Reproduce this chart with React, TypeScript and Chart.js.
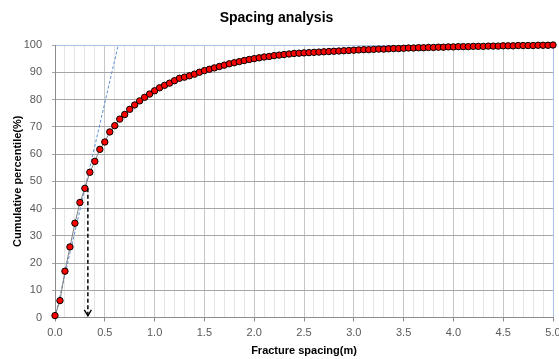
import React, { useEffect, useRef } from "react";
import { Chart, registerables } from "chart.js";

Chart.register(...registerables);

const spacing: number[] = [
  0.0, 0.05, 0.1, 0.15, 0.2, 0.25, 0.3, 0.35, 0.4, 0.45,
  0.5, 0.55, 0.6, 0.65, 0.7, 0.75, 0.8, 0.85, 0.9, 0.95,
  1.0, 1.05, 1.1, 1.15, 1.2, 1.25, 1.3, 1.35, 1.4, 1.45,
  1.5, 1.55, 1.6, 1.65, 1.7, 1.75, 1.8, 1.85, 1.9, 1.95,
  2.0, 2.05, 2.1, 2.15, 2.2, 2.25, 2.3, 2.35, 2.4, 2.45,
  2.5, 2.55, 2.6, 2.65, 2.7, 2.75, 2.8, 2.85, 2.9, 2.95,
  3.0, 3.05, 3.1, 3.15, 3.2, 3.25, 3.3, 3.35, 3.4, 3.45,
  3.5, 3.55, 3.6, 3.65, 3.7, 3.75, 3.8, 3.85, 3.9, 3.95,
  4.0, 4.05, 4.1, 4.15, 4.2, 4.25, 4.3, 4.35, 4.4, 4.45,
  4.5, 4.55, 4.6, 4.65, 4.7, 4.75, 4.8, 4.85, 4.9, 4.95,
  5.0,
];

const cumulative: number[] = [
  0.7, 6.2, 17.0, 25.9, 34.6, 42.2, 47.4, 53.3, 57.3, 61.7,
  64.4, 68.1, 70.4, 72.8, 74.5, 76.4, 78.0, 79.5, 80.8, 82.0,
  83.2, 84.3, 85.2, 86.0, 86.9, 87.8, 88.2, 88.7, 89.3, 90.0,
  90.6, 91.1, 91.6, 92.1, 92.6, 93.1, 93.5, 93.9, 94.3, 94.7,
  95.0, 95.3, 95.6, 95.8, 96.1, 96.3, 96.5, 96.7, 96.9, 97.0,
  97.1, 97.2, 97.3, 97.4, 97.5, 97.6, 97.7, 97.8, 97.9, 98.0,
  98.1, 98.2, 98.3, 98.3, 98.4, 98.5, 98.5, 98.6, 98.7, 98.7,
  98.8, 98.9, 98.9, 99.0, 99.0, 99.1, 99.1, 99.2, 99.2, 99.3,
  99.3, 99.4, 99.4, 99.4, 99.5, 99.5, 99.5, 99.6, 99.6, 99.6,
  99.7, 99.7, 99.7, 99.8, 99.8, 99.8, 99.8, 99.9, 99.9, 99.9,
  100.0,
];

const tangentX: number[] = [0, 0.635];
const tangentY: number[] = [0, 100];

const arrowX: number[] = [0.33, 0.33];
const arrowY: number[] = [47.4, 0.6];

const xTickLabels: string[] = [
  "0.0", "0.5", "1.0", "1.5", "2.0", "2.5", "3.0", "3.5", "4.0", "4.5", "5.0",
];

const TITLE = "Spacing analysis";
const X_TITLE = "Fracture spacing(m)";
const Y_TITLE = "Cumulative percentile(%)";

const isMajorX = (v: number) => Math.abs(v * 2 - Math.round(v * 2)) < 1e-6;

const arrowHeadPlugin = {
  id: "arrowHead",
  afterDatasetsDraw(chart: any) {
    const meta = chart.getDatasetMeta(2);
    if (!meta || !meta.data || meta.data.length < 2) return;
    const tip = meta.data[meta.data.length - 1];
    const ctx = chart.ctx;
    ctx.save();
    ctx.strokeStyle = "#000000";
    ctx.lineWidth = 1.3;
    ctx.setLineDash([]);
    ctx.beginPath();
    ctx.moveTo(tip.x - 3.5, tip.y - 6);
    ctx.lineTo(tip.x, tip.y);
    ctx.lineTo(tip.x + 3.5, tip.y - 6);
    ctx.stroke();
    ctx.restore();
  },
};

export default function App() {
  const ref = useRef<HTMLCanvasElement | null>(null);

  useEffect(() => {
    if (!ref.current) return;
    const fontFamily = "'Liberation Sans', Arial, sans-serif";
    const chart = new Chart(ref.current, {
      type: "line",
      data: {
        datasets: [
          {
            label: "data",
            data: spacing.map((x, i) => ({ x, y: cumulative[i] })),
            borderColor: "#7f7f7f",
            borderWidth: 1,
            pointRadius: 3.2,
            pointBackgroundColor: "#ff0000",
            pointBorderColor: "#000000",
            pointBorderWidth: 1,
            clip: false as any,
            order: 1,
          },
          {
            label: "tangent",
            data: tangentX.map((x, i) => ({ x, y: tangentY[i] })),
            borderColor: "#5b8fd0",
            borderWidth: 1,
            borderDash: [3, 2],
            pointRadius: 0,
            order: 2,
          },
          {
            label: "arrow",
            data: arrowX.map((x, i) => ({ x, y: arrowY[i] })),
            borderColor: "#000000",
            borderWidth: 1.5,
            borderDash: [4, 2.5],
            pointRadius: 0,
            order: 0,
          },
        ],
      },
      options: {
        responsive: false,
        animation: false,
        layout: { padding: { left: 0, right: 6, top: 0, bottom: 0 } },
        plugins: {
          legend: { display: false },
          tooltip: { enabled: false },
          title: {
            display: true,
            text: TITLE,
            color: "#000000",
            font: { family: fontFamily, size: 14, weight: "bold" },
            padding: { top: 9.6, bottom: 18.6 },
          },
        },
        scales: {
          x: {
            type: "linear",
            min: 0,
            max: 5,
            afterFit(scale: any) {
              scale.height = 41.5;
              scale.paddingLeft = 0;
              scale.paddingRight = 0;
            },
            ticks: {
              stepSize: 0.1,
              autoSkip: false,
              maxTicksLimit: 200,
              minRotation: 0,
              maxRotation: 0,
              padding: 5,
              color: "#595959",
              font: { family: fontFamily, size: 11 },
              callback: (v: any) => {
                const n = Number(v);
                if (!isMajorX(n)) return "";
                return xTickLabels[Math.round(n * 2)] ?? "";
              },
            },
            grid: {
              drawTicks: true,
              tickLength: 4,
              color: (c: any) => {
                const v = c.tick ? c.tick.value : 0;
                if (Math.abs(v - 5) < 1e-6) return "#a9c2e6";
                if (Math.abs(v) < 1e-6) return "#8c8c8c";
                return isMajorX(v) ? "#c6c6c6" : "#e4e4e4";
              },
              tickColor: (c: any) => {
                const v = c.tick ? c.tick.value : 0;
                return isMajorX(v) ? "#8c8c8c" : "rgba(0,0,0,0)";
              },
            },
            border: { display: true, color: "#8c8c8c", width: 1 },
            title: {
              display: true,
              text: X_TITLE,
              color: "#000000",
              font: { family: fontFamily, size: 11, weight: "bold" },
              padding: { top: 0, bottom: 1.4 },
            },
          },
          y: {
            type: "linear",
            min: 0,
            max: 100,
            afterFit(scale: any) {
              scale.width = 55;
            },
            ticks: {
              stepSize: 10,
              padding: 10,
              color: "#595959",
              font: { family: fontFamily, size: 11 },
            },
            grid: {
              drawTicks: true,
              tickLength: 3,
              color: (c: any) => {
                const v = c.tick ? c.tick.value : 0;
                if (Math.abs(v - 100) < 1e-6) return "#a9c2e6";
                return "#a6a6a6";
              },
              tickColor: "#a6a6a6",
            },
            border: { display: true, color: "#8c8c8c", width: 1 },
            title: {
              display: true,
              text: Y_TITLE,
              color: "#000000",
              font: { family: fontFamily, size: 11, weight: "bold" },
              padding: { top: 11, bottom: 0 },
            },
          },
        },
      },
      plugins: [arrowHeadPlugin],
    } as any);
    return () => chart.destroy();
  }, []);

  return (
    <div style={{ position: "absolute", left: 0, top: 0, width: 559, height: 359, background: "#ffffff" }}>
      <canvas ref={ref} width={559} height={359} />
    </div>
  );
}
